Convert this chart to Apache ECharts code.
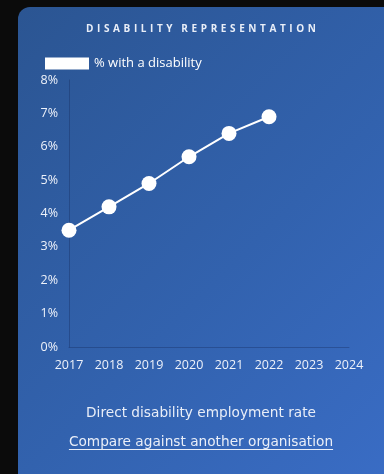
<!DOCTYPE html>
<html><head><meta charset="utf-8">
<script src="https://cdn.jsdelivr.net/npm/echarts@6/dist/echarts.min.js"></script>
<style>
html,body{margin:0;padding:0;background:#0b0b0b;width:384px;height:474px;overflow:hidden;}
#card{position:absolute;left:18px;top:7px;width:380px;height:480px;border-radius:12px;
background:linear-gradient(135deg,#2b5592 0%,#3262ae 55%,#3a6dc6 100%);}
#chart{position:absolute;left:0;top:0;width:384px;height:474px;}
</style></head>
<body><div id="card"></div><div id="chart"></div>
<script>
const years = ['2017','2018','2019','2020','2021','2022','2023','2024'];
const disabilityPct = [3.5, 4.2, 4.9, 5.7, 6.4, 6.9];
const yTicks = [0,1,2,3,4,5,6,7,8];
const seriesName = '% with a disability';
const titleText = 'DISABILITY REPRESENTATION';
const subtitle = 'Direct disability employment rate';
const linkText = 'Compare against another organisation';

const font = 'Open Sans, Lato, sans-serif';
const wideFont = 'DejaVu Sans, sans-serif';
const chart = echarts.init(document.getElementById('chart'), null, {renderer:'canvas'});
const spaced = titleText.split(' ').map(w => w.split('').join(' \u200A')).join('  \u200A ');

const cv = document.createElement('canvas').getContext('2d');
cv.font = '13.7px ' + wideFont;
const linkW = cv.measureText(linkText).width;
const cx = 201;

chart.setOption({
  backgroundColor:'transparent',
  animation:false,
  graphic:[
    {type:'text',x:cx,y:29,style:{text:spaced,fill:'#e9eef8',font:'bold 10px '+font,align:'center',verticalAlign:'middle'}},
    {type:'text',x:cx,y:413,style:{text:subtitle,fill:'#e9eef8',font:'13.7px '+wideFont,align:'center',verticalAlign:'middle'}},
    {type:'text',x:cx,y:442,style:{text:linkText,fill:'#e9eef8',font:'13.7px '+wideFont,align:'center',verticalAlign:'middle'}},
    {type:'line',shape:{x1:cx-linkW/2,y1:449.5,x2:cx+linkW/2,y2:449.5},style:{stroke:'#e9eef8',lineWidth:1}}
  ],
  legend:{data:[{name:seriesName,icon:'rect'}],left:45,top:57,padding:0,itemWidth:44,itemHeight:12,itemGap:6,
    textStyle:{color:'#ffffff',fontSize:13,fontFamily:font,padding:[0,0,0,0]}},
  grid:{left:69,right:35,top:80,bottom:127},
  xAxis:{type:'category',data:years,boundaryGap:false,
    axisLine:{lineStyle:{color:'rgba(20,40,90,0.35)'}},axisTick:{show:false},
    axisLabel:{color:'#eef2fa',fontSize:12.5,fontFamily:font,margin:12},splitLine:{show:false}},
  yAxis:{type:'value',min:0,max:8,interval:1,
    axisLine:{show:true,lineStyle:{color:'rgba(20,40,90,0.35)'}},axisTick:{show:false},splitLine:{show:false},
    axisLabel:{color:'#eef2fa',fontSize:12.5,fontFamily:font,margin:11,formatter:v=>v+'%'}},
  series:[{name:seriesName,type:'line',data:disabilityPct,symbol:'circle',symbolSize:15,
    itemStyle:{color:'#ffffff'},lineStyle:{color:'#ffffff',width:2}}]
});
</script></body></html>
